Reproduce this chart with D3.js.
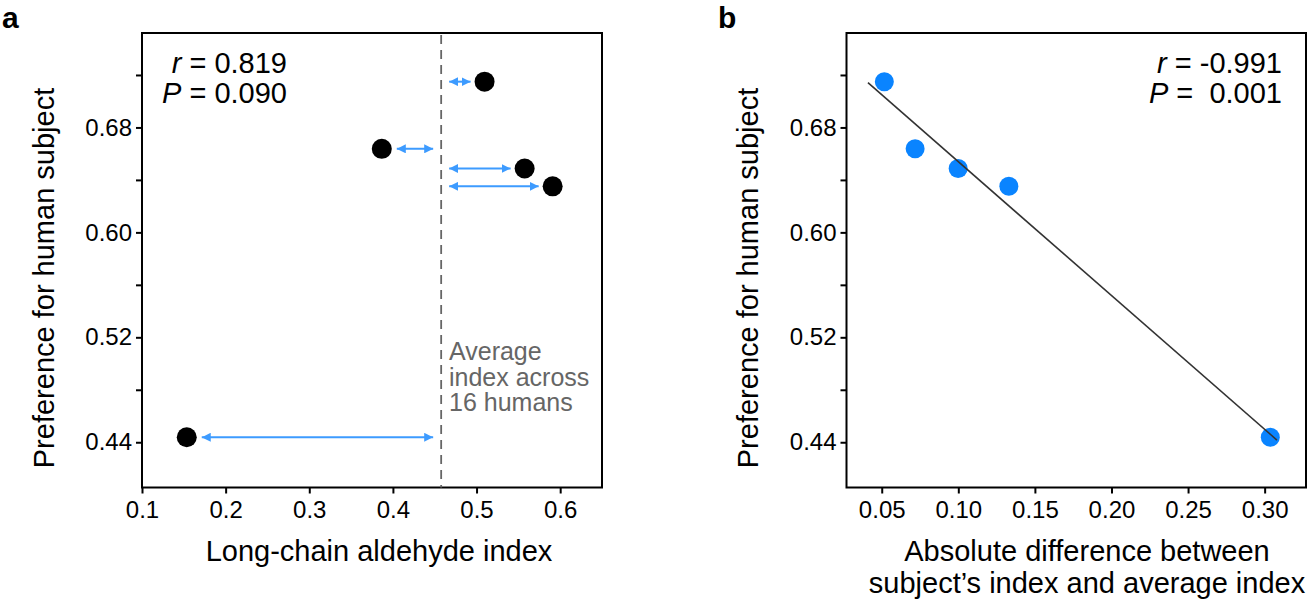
<!DOCTYPE html>
<html>
<head>
<meta charset="utf-8">
<script src="https://cdn.jsdelivr.net/npm/d3@7"></script>
<style>
  html, body { margin: 0; padding: 0; background: #fff; }
  svg { display: block; }
  text { font-family: "Liberation Sans", Arial, Helvetica, sans-serif; }
</style>
</head>
<body>
<svg id="chart" width="1309" height="605"></svg>
<script>
// ---------- data ----------
const indexA   = [0.5096, 0.3867, 0.5575, 0.5910, 0.1535];   // long-chain aldehyde index
const prefA    = [0.7149, 0.6637, 0.6487, 0.6351, 0.4438];   // preference for human subject
const avgIndex = 0.4577;                                      // average index across 16 humans
const absDiff  = [0.0517, 0.0718, 0.0999, 0.1330, 0.3037];   // |index - average|
const prefB    = [0.7149, 0.6637, 0.6487, 0.6351, 0.4438];
const fitExtent = [0.041, 0.308];
const yMajor = [0.44, 0.52, 0.60, 0.68];
const yMinor = [0.48, 0.56, 0.64, 0.72];
const xTicksA = [0.1, 0.2, 0.3, 0.4, 0.5, 0.6];
const xTicksB = [0.05, 0.10, 0.15, 0.20, 0.25, 0.30];
const statsA = [["r", " = 0.819"], ["P", " = 0.090"]];
const statsB = [["r", " = -0.991"], ["P", " =  0.001"]];
const annot = ["Average", "index across", "16 humans"];

// ---------- layout ----------
const yTop = 33, yBot = 487.5;
const svg = d3.select("#chart");
const blue = "#0a84ff", arrowBlue = "#3d9bff";
const FONT = '"Liberation Sans", Arial, Helvetica, sans-serif';

const y = d3.scaleLinear().domain([0.4055, 0.752]).range([yBot, yTop]);
const xA = d3.scaleLinear().domain([0.1, 0.65]).range([142, 602]);
const xB = d3.scaleLinear().domain([0.027, 0.327]).range([846.5, 1306]);

const defs = svg.append("defs");
defs.append("marker").attr("id", "ah")
  .attr("viewBox", "0 0 10 10").attr("refX", 10).attr("refY", 5)
  .attr("markerUnits", "userSpaceOnUse")
  .attr("markerWidth", 9).attr("markerHeight", 9)
  .attr("orient", "auto-start-reverse")
  .append("path").attr("d", "M0,0 L10,5 L0,10 z").attr("fill", arrowBlue);

function panel(x, xTicks, xFmt) {
  const g = svg.append("g");
  const yAxis = d3.axisLeft(y).tickValues(yMajor.concat(yMinor)).tickSize(6).tickPadding(4)
    .tickFormat(d => yMajor.some(v => Math.abs(v - d) < 1e-9) ? d3.format(".2f")(d) : "");
  const ga = g.append("g").attr("transform", `translate(${x.range()[0]},0)`).call(yAxis);
  const xAxis = d3.axisBottom(x).tickValues(xTicks).tickSize(6).tickPadding(7).tickFormat(xFmt);
  const gb = g.append("g").attr("transform", `translate(0,${yBot})`).call(xAxis);
  [ga, gb].forEach(a => {
    a.select(".domain").remove();
    a.selectAll(".tick line").attr("stroke", "#000").attr("stroke-width", 2);
    a.selectAll(".tick text").attr("fill", "#000").style("font-size", "24px")
      .style("font-family", FONT);
  });
  g.append("rect").attr("x", x.range()[0]).attr("y", yTop)
    .attr("width", x.range()[1] - x.range()[0]).attr("height", yBot - yTop)
    .attr("fill", "none").attr("stroke", "#000").attr("stroke-width", 2);
  return g;
}

// ---------- panel a ----------
const gA = panel(xA, xTicksA, d3.format(".1f"));
gA.append("line").attr("x1", xA(avgIndex)).attr("x2", xA(avgIndex))
  .attr("y1", yTop + 2).attr("y2", yBot)
  .attr("stroke", "#666").attr("stroke-width", 1.8).attr("stroke-dasharray", "9,6");

indexA.forEach((v, i) => {
  const xa = xA(avgIndex), xv = xA(v), yy = y(prefA[i]);
  let x1, x2;
  if (v > avgIndex) { x1 = xa + 8; x2 = xv - 14; } else { x1 = xv + 15; x2 = xa - 8; }
  gA.append("line").attr("x1", x1).attr("x2", x2).attr("y1", yy).attr("y2", yy)
    .attr("stroke", arrowBlue).attr("stroke-width", 2)
    .attr("marker-start", "url(#ah)").attr("marker-end", "url(#ah)");
});
gA.selectAll("circle.pa").data(indexA).join("circle").attr("class", "pa")
  .attr("cx", d => xA(d)).attr("cy", (d, i) => y(prefA[i])).attr("r", 10).attr("fill", "#000");

annot.forEach((t, i) => {
  gA.append("text").attr("x", 449).attr("y", 360 + i * 25.5).attr("fill", "#666")
    .style("font-size", "25px").text(t);
});

function stats(g, data, xEnd) {
  data.forEach((d, i) => {
    const t = g.append("text").attr("x", xEnd).attr("y", 73 + i * 30)
      .attr("text-anchor", "end").style("font-size", "29px").attr("fill", "#000")
      .attr("xml:space", "preserve").style("white-space", "pre");
    t.append("tspan").style("font-style", "italic").text(d[0]);
    t.append("tspan").text(d[1]);
  });
}
stats(gA, statsA, 287);

gA.append("text").attr("x", 379).attr("y", 561).attr("text-anchor", "middle")
  .style("font-size", "29px").text("Long-chain aldehyde index");
gA.append("text").attr("transform", `translate(54,278) rotate(-90)`)
  .attr("text-anchor", "middle").style("font-size", "29px").text("Preference for human subject");
gA.append("text").attr("x", 2).attr("y", 28).style("font-size", "30px").style("font-weight", "bold").text("a");

// ---------- panel b ----------
const gB = panel(xB, xTicksB, d3.format(".2f"));
// least-squares fit from the data
const mx = d3.mean(absDiff), my = d3.mean(prefB);
const sxy = d3.sum(absDiff, (d, i) => (d - mx) * (prefB[i] - my));
const sxx = d3.sum(absDiff, d => (d - mx) * (d - mx));
const slope = sxy / sxx, icpt = my - slope * mx;
gB.selectAll("circle.pb").data(absDiff).join("circle").attr("class", "pb")
  .attr("cx", d => xB(d)).attr("cy", (d, i) => y(prefB[i])).attr("r", 9.5).attr("fill", blue);
gB.append("line")
  .attr("x1", xB(fitExtent[0])).attr("y1", y(icpt + slope * fitExtent[0]))
  .attr("x2", xB(fitExtent[1])).attr("y2", y(icpt + slope * fitExtent[1]))
  .attr("stroke", "#333").attr("stroke-width", 1.6);

stats(gB, statsB, 1282);
gB.append("text").attr("x", 1087).attr("y", 561).attr("text-anchor", "middle")
  .style("font-size", "29px").text("Absolute difference between");
gB.append("text").attr("x", 1087).attr("y", 593).attr("text-anchor", "middle")
  .style("font-size", "29px").text("subject\u2019s index and average index");
gB.append("text").attr("transform", `translate(758,278) rotate(-90)`)
  .attr("text-anchor", "middle").style("font-size", "29px").text("Preference for human subject");
gB.append("text").attr("x", 718).attr("y", 28).style("font-size", "30px").style("font-weight", "bold").text("b");
</script>
</body>
</html>
